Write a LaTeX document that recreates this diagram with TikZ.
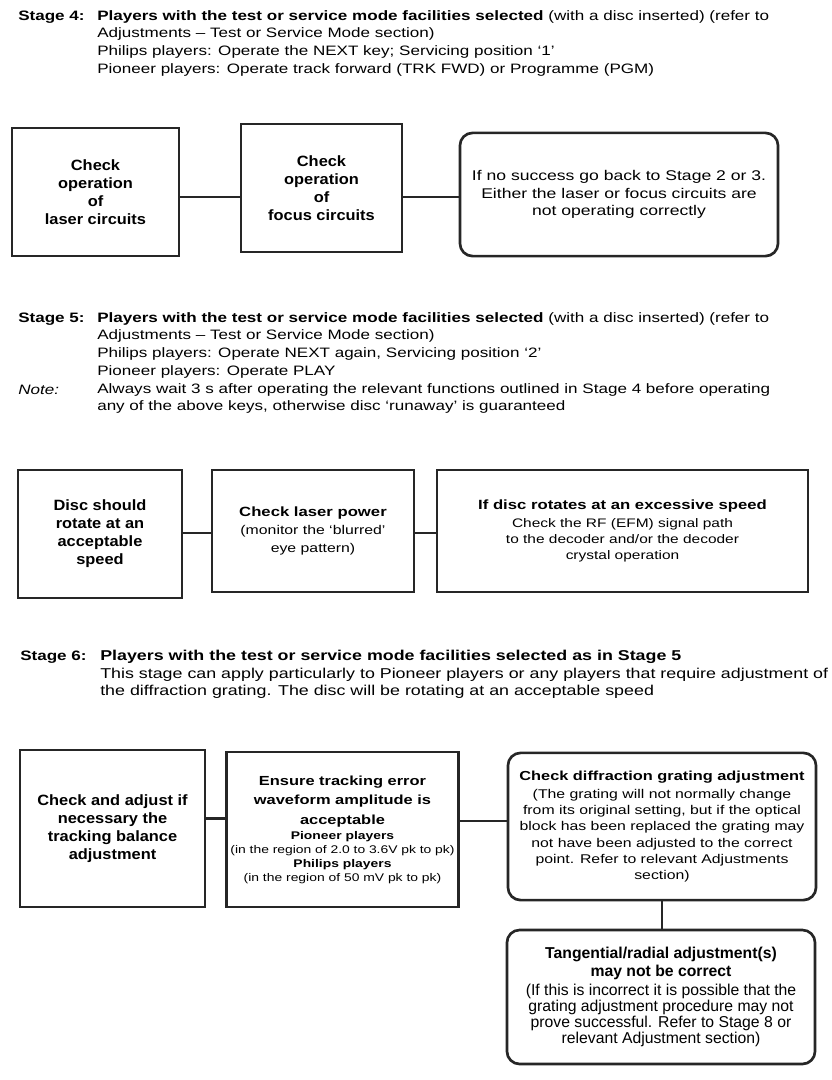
\documentclass[tikz,border=0pt]{standalone}
\usepackage{fontspec}
\setmainfont{Liberation Sans}[FakeStretch=1.25]
\newfontfamily\boxsans{Liberation Sans}[FakeStretch=1.1]
\newfontfamily\widesans{Liberation Sans}

\usetikzlibrary{positioning}

\begin{document}
\begin{tikzpicture}[
    x=0.025cm, y=-0.025cm,
    font=\fontsize{9.7}{12.6}\selectfont,
    box/.style={
        rectangle, draw=black!85, line width=1.9pt,
        align=center, inner sep=3pt
    },
    rbox/.style={box, rounded corners=9pt},
    bbox/.style={box, font=\boxsans\fontsize{10.6}{12.8}\selectfont\bfseries},
    link/.style={line width=1.9pt, black!85},
    stagelbl/.style={anchor=north west, inner sep=0pt,
        font=\fontsize{9.7}{12.6}\selectfont\bfseries,
        execute at begin node=\vphantom{(}},
    para/.style={anchor=north west, inner sep=0pt, align=left,
        execute at begin node=\vphantom{(}},
]
\useasboundingbox (0,0) rectangle (831,1080);

% ── Stage 4 ──
\node[stagelbl] (s4) at (18,10) {Stage 4:};
\node[para] (s4txt) at (97,10)
    {\textbf{Players with the test or service mode facilities selected} (with a disc inserted) (refer to\\
     Adjustments -- Test or Service Mode section)\\
     Philips players: Operate the NEXT key; Servicing position `1'\\
     Pioneer players: Operate track forward (TRK FWD) or Programme (PGM)};

\node[bbox, minimum width=4.18cm, minimum height=3.2cm]
    (laser) at (95.5,192) {Check\\operation\\of\\laser circuits};
\node[bbox, minimum width=4.03cm, minimum height=3.2cm]
    (focus) at (321.5,188) {Check\\operation\\of\\focus circuits};
\node[rbox, minimum width=7.95cm, minimum height=3.08cm,
      font=\fontsize{10}{12.5}\selectfont]
    (nosucc) at (619,194.5)
    {If no success go back to Stage 2 or 3.\\
     Either the laser or focus circuits are\\
     not operating correctly};

\coordinate (row1) at ([yshift=-3.6pt]laser.east);
\draw[link] (row1) -- (row1 -| focus.west);
\draw[link] (row1 -| focus.east) -- (row1 -| nosucc.west);

% ── Stage 5 ──
\node[stagelbl] (s5) at (18,312) {Stage 5:};
\node[para] (s5txt) at (97,312)
    {\textbf{Players with the test or service mode facilities selected} (with a disc inserted) (refer to\\
     Adjustments -- Test or Service Mode section)\\
     Philips players: Operate NEXT again, Servicing position `2'\\
     Pioneer players: Operate PLAY\\
     Always wait 3 s after operating the relevant functions outlined in Stage 4 before operating\\
     any of the above keys, otherwise disc `runaway' is guaranteed};
\node[para, font=\fontsize{9.7}{12.6}\selectfont\itshape]
    (note) at (18,384) {Note:};

\node[bbox, minimum width=4.1cm, minimum height=3.2cm]
    (disc) at (100,534) {Disc should\\rotate at an\\acceptable\\speed};
\node[box, minimum width=5.05cm, minimum height=3.05cm,
      font=\fontsize{9}{12.5}\selectfont]
    (power) at (313,531)
    {{\fontsize{9.5}{12.8}\selectfont\bfseries Check laser power}\\
     (monitor the `blurred'\\
     eye pattern)};
\node[box, minimum width=9.28cm, minimum height=3.05cm,
      font=\fontsize{8.8}{11.4}\selectfont]
    (speed) at (622.5,531)
    {{\fontsize{9.5}{12.8}\selectfont\bfseries If disc rotates at an excessive speed}\\[1.5pt]
     Check the RF (EFM) signal path\\
     to the decoder and/or the decoder\\
     crystal operation};

\coordinate (row2) at ([yshift=0.7pt]disc.east);
\draw[link] (row2) -- (row2 -| power.west);
\draw[link] (row2 -| power.east) -- (row2 -| speed.west);

% ── Stage 6 ──
\node[stagelbl] (s6) at (20,650) {Stage 6:};
\node[para, font=\fontsize{10.15}{12.5}\selectfont] (s6txt) at (100,650)
    {\textbf{Players with the test or service mode facilities selected as in Stage 5}\\
     This stage can apply particularly to Pioneer players or any players that require adjustment of\\
     the diffraction grating. The disc will be rotating at an acceptable speed};

\node[bbox, minimum width=4.63cm, minimum height=3.93cm]
    (balance) at (112.5,828.5)
    {Check and adjust if\\necessary the\\tracking balance\\adjustment};
\node[box, minimum width=5.78cm, minimum height=3.88cm,
      text width=5.6cm, align=flush center]
    (terr) at (342.5,829.5)
    {{\fontsize{9.35}{14.2}\selectfont\bfseries Ensure tracking error\\
      waveform amplitude is\\ acceptable\par}
     {\fontsize{7.9}{10}\selectfont\textbf{Pioneer players}\\
      (in the region of 2.0 to 3.6V pk to pk)\\
      \textbf{Philips players}\\
      (in the region of 50 mV pk to pk)\par}};
\node[rbox, minimum width=7.7cm, minimum height=3.68cm,
      font=\fontsize{9}{11.4}\selectfont]
    (grating) at (662,826.5)
    {{\fontsize{9.3}{11.4}\selectfont\bfseries Check diffraction grating adjustment}\\[1.5pt]
     (The grating will not normally change\\
     from its original setting, but if the optical\\
     block has been replaced the grating may\\
     not have been adjusted to the correct\\
     point. Refer to relevant Adjustments\\
     section)};
\node[rbox, minimum width=7.7cm, minimum height=3.35cm,
      font=\widesans\fontsize{11.2}{11.6}\selectfont]
    (tang) at (661,997)
    {\textbf{Tangential/radial adjustment(s)}\\[1.5pt]
     \textbf{may not be correct}\\[1.5pt]
     (If this is incorrect it is possible that the\\
     grating adjustment procedure may not\\
     prove successful. Refer to Stage 8 or\\
     relevant Adjustment section)};

\coordinate (row3) at ([yshift=7.3pt]balance.east);
\draw[link] (row3) -- (row3 -| terr.west);
\draw[link] ([yshift=-2pt]row3 -| terr.east) -- ([yshift=-2pt]row3 -| grating.west);
\draw[link] (grating.south) -- (grating.south |- tang.north);

\end{tikzpicture}
\end{document}
